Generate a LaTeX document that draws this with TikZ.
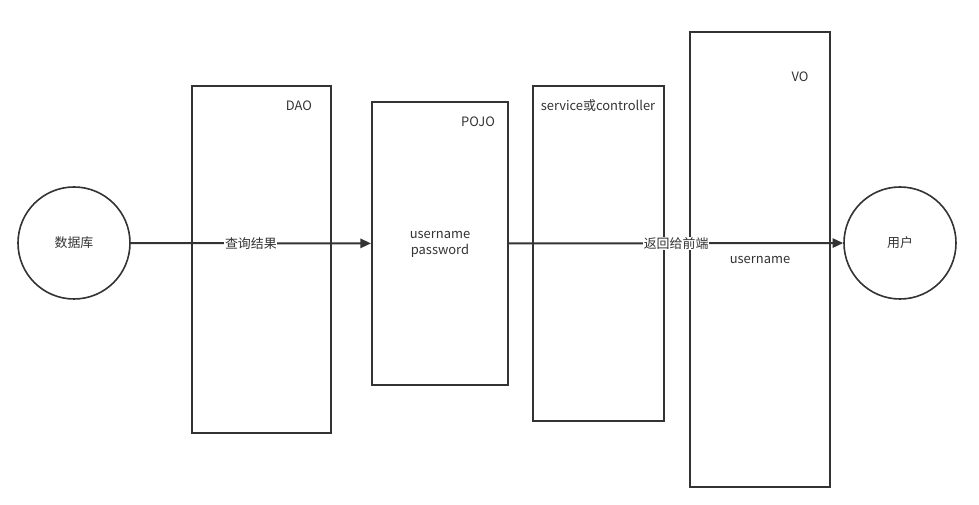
\documentclass[tikz,border=0pt]{standalone}
\usepackage{fontspec}
\setmainfont{Noto Sans CJK SC}
\usetikzlibrary{arrows.meta}

\definecolor{linegray}{HTML}{333333}
\definecolor{textgray}{HTML}{333333}

\tikzset{
    box/.style={draw=linegray, line width=1.5pt, rectangle, inner sep=0pt},
    endpoint/.style={draw=linegray, line width=1.2pt, circle, minimum size=84pt, inner sep=0pt, text=textgray},
    flow/.style={draw=linegray, line width=1.5pt, -{Triangle[length=8pt, width=7pt]}},
    flowlabel/.style={fill=white, inner sep=0.5pt, text=textgray},
    tag/.style={text=textgray, inner sep=0pt}
}

\begin{document}
\begin{tikzpicture}[x=0.75pt, y=-0.75pt, font=\fontsize{9.7pt}{12pt}\selectfont]
    \useasboundingbox (0,0) rectangle (979,505);

    % Define the two end points
    \node[endpoint] (db) at (74,243) {数据库};
    \node[endpoint] (user) at (900,243) {用户};

    % Draw the layer boxes
    \node[box, minimum width=104pt, minimum height=260pt] (dao) at (261.5,259.5) {};
    \node[box, minimum width=102pt, minimum height=212pt] (pojo) at (440,243.5) {};
    \node[box, minimum width=98pt, minimum height=251pt] (svc) at (598.5,253.5) {};
    \node[box, minimum width=105pt, minimum height=341pt] (vo) at (760,259.5) {};

    % Box titles
    \node[tag] (daotitle) at (299,106) {DAO};
    \node[tag] (pojotitle) at (478,122) {POJO};
    \node[tag] (svctitle) at (598,106) {service或controller};
    \node[tag] (votitle) at (800,77) {VO};

    % Fields
    \node[tag, align=center] (pojofields) at (440,244) {username\\password};
    \node[tag] (vofields) at (760,260) {username};

    % Draw the data flow
    \draw[flow] (db) -- node[flowlabel] {查询结果} (pojo);
    \draw[flow] (pojo) -- node[flowlabel] {返回给前端} (user);
\end{tikzpicture}
\end{document}
